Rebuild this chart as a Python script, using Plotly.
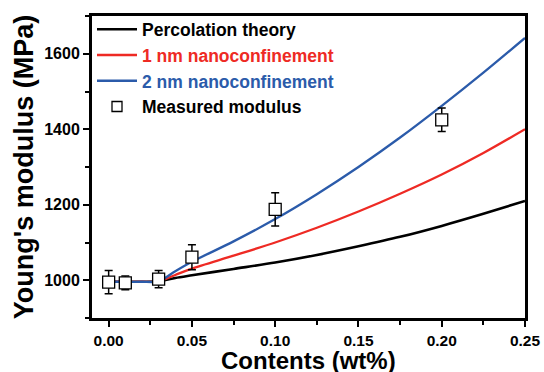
import plotly.graph_objects as go

# Theory curves (x in wt%, y in MPa)
x_curve = [0.0, 0.01, 0.02, 0.03, 0.04, 0.05, 0.075, 0.10, 0.125, 0.15, 0.175, 0.20, 0.225, 0.25]
perc = [996, 996, 996, 997, 1006, 1013, 1030, 1047, 1067, 1090, 1115, 1144, 1176, 1210]
nm1 = [996, 996, 996, 997, 1014, 1031, 1065, 1100, 1139, 1182, 1229, 1280, 1337, 1400]
nm2 = [996, 996, 996, 997, 1024, 1049, 1103, 1162, 1228, 1300, 1378, 1462, 1550, 1642]

# Measured data
x_meas = [0.0, 0.01, 0.03, 0.05, 0.10, 0.20]
y_meas = [995, 993, 1003, 1061, 1188, 1425]
err_meas = [31, 18, 23, 33, 44, 31]

RED = "#EE2A24"
BLUE = "#2B5BAA"
FONT = "Liberation Sans, Arial, sans-serif"

fig = go.Figure()
fig.add_trace(go.Scatter(x=x_curve, y=perc, mode="lines", line=dict(color="black", width=2.6, shape="spline", smoothing=0.8),
                         name="<b>Percolation theory</b>", legendgroup="a"))
fig.add_trace(go.Scatter(x=x_curve, y=nm1, mode="lines", line=dict(color=RED, width=2.3, shape="spline", smoothing=0.8),
                         name=f"<b><span style='color:{RED}'>1 nm nanoconfinement</span></b>", legendgroup="b"))
fig.add_trace(go.Scatter(x=x_curve, y=nm2, mode="lines", line=dict(color=BLUE, width=2.3, shape="spline", smoothing=0.8),
                         name=f"<b><span style='color:{BLUE}'>2 nm nanoconfinement</span></b>", legendgroup="c"))
fig.add_trace(go.Scatter(x=x_meas, y=y_meas, mode="markers",
                         marker=dict(symbol="square-open", size=10, color="black", line=dict(width=1.3)),
                         error_y=dict(type="data", array=err_meas, visible=True, color="black", thickness=1.5, width=4),
                         name="<b>Measured modulus</b>", legendgroup="d"))
# white fill behind open squares
fig.add_trace(go.Scatter(x=x_meas, y=y_meas, mode="markers",
                         marker=dict(symbol="square", size=12, color="white", line=dict(width=1.3, color="black")),
                         showlegend=False, hoverinfo="skip"))

fig.update_layout(
    width=544, height=372,
    margin=dict(l=92, r=19, t=15, b=54),
    paper_bgcolor="white", plot_bgcolor="white",
    font=dict(family=FONT, color="black"),
    showlegend=True,
    legend=dict(x=0.0, y=1.012, xanchor="left", yanchor="top", bgcolor="rgba(0,0,0,0)",
                font=dict(size=17.5, family=FONT, color="black"), itemwidth=40,
                tracegroupgap=0, traceorder="grouped"),
    annotations=[dict(text="<b>Contents (wt%)</b>", xref="paper", yref="paper", x=0.5, y=-0.14,
                      xanchor="center", yanchor="middle", showarrow=False,
                      font=dict(size=24, family=FONT, color="black"))],
)
fig.update_xaxes(
    range=[-0.01, 0.25], tickvals=[0, 0.05, 0.10, 0.15, 0.20, 0.25], tickformat=".2f",
    ticks="outside", ticklen=6, tickwidth=2, tickcolor="black",
    minor=dict(dtick=0.025, tick0=0, ticks="outside", ticklen=4, tickwidth=2, tickcolor="black"),
    showline=True, linewidth=3, linecolor="black", mirror=True, showgrid=False, zeroline=False,
    tickfont=dict(size=15.5, family=FONT, weight="bold"), automargin=False,
)
fig.update_yaxes(
    range=[900, 1700], tickvals=[1000, 1200, 1400, 1600],
    ticks="outside", ticklen=6, tickwidth=2, tickcolor="black",
    minor=dict(dtick=100, tick0=900, ticks="outside", ticklen=4, tickwidth=2, tickcolor="black"),
    showline=True, linewidth=3, linecolor="black", mirror=True, showgrid=False, zeroline=False,
    tickfont=dict(size=16, family=FONT, weight="bold"), automargin=False,
    title=dict(text="Young's modulus (MPa)", font=dict(size=27, family=FONT, weight="bold"), standoff=3),
)

fig.write_html("out.html")
